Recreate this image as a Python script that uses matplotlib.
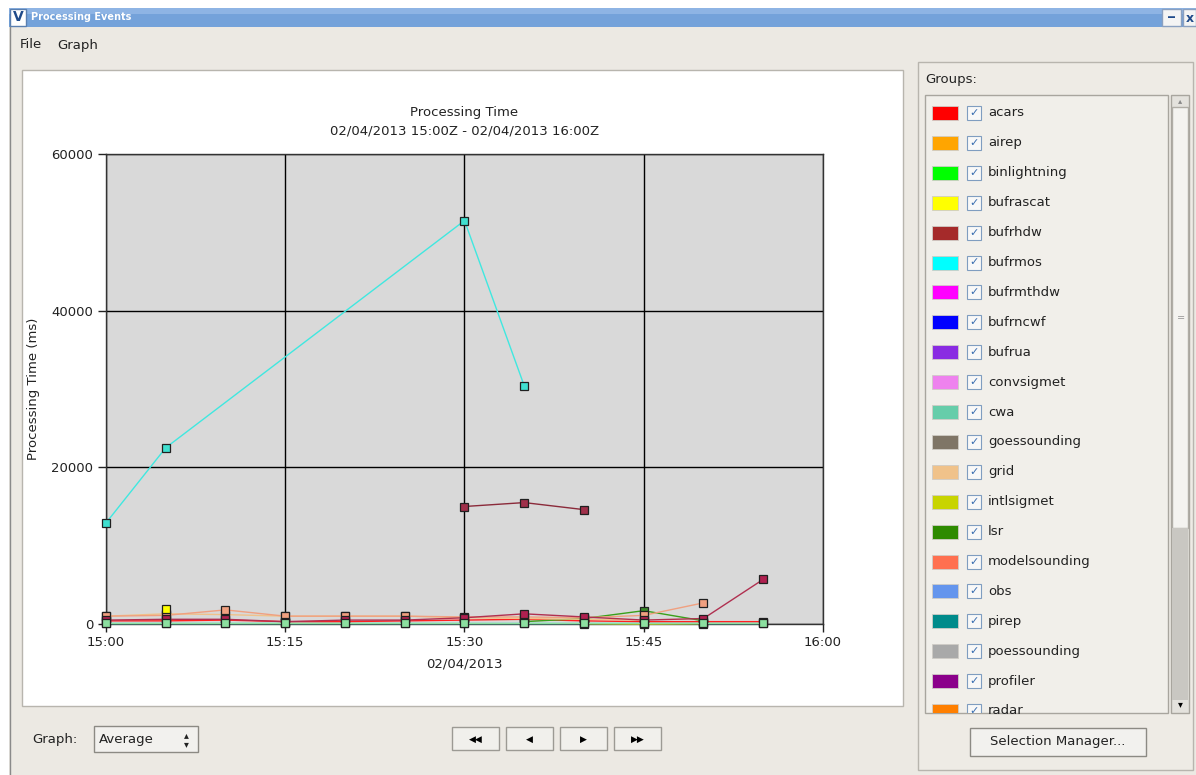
"""Processing Events window: processing time per group, 15:00-16:00Z."""
import numpy as np
import pandas as pd
import matplotlib

matplotlib.use("Agg")
import matplotlib.pyplot as plt
import matplotlib.dates as mdates
from matplotlib.patches import Rectangle

# ---- data (ms) ----
day = "2013-02-04 "
bufrmos_t = ["15:00", "15:05", "15:30", "15:35"]
bufrmos_v = [12900, 22500, 51500, 30400]
bufrhdw_t = ["15:30", "15:35", "15:40"]
bufrhdw_v = [15000, 15500, 14600]
radar_t = ["15:00", "15:05", "15:10", "15:15", "15:20", "15:25", "15:30", "15:35", "15:40", "15:45", "15:50", "15:55"]
radar_v = [500, 600, 600, 300, 500, 500, 800, 1300, 900, 500, 700, 5700]
model_t = ["15:00", "15:05", "15:10", "15:15", "15:20", "15:25", "15:30", "15:35", "15:40", "15:45", "15:50"]
model_v = [1000, 1100, 1800, 1000, 1000, 1000, 900, 900, 800, 1100, 2700]
grid_t = ["15:00", "15:05", "15:10", "15:15", "15:20", "15:25", "15:30", "15:35", "15:40", "15:45"]
grid_v = [1000, 1300, 1200, 1000, 1000, 1000, 800, 700, 600, 500]
acars_t = ["15:00", "15:05", "15:10", "15:15", "15:20", "15:25", "15:30", "15:35", "15:40", "15:45", "15:50", "15:55"]
acars_v = [400, 400, 500, 300, 300, 400, 500, 600, 400, 300, 300, 300]
bufrascat_t = ["15:05"]
bufrascat_v = [1900]
lsr_t = ["15:35", "15:40", "15:45", "15:50"]
lsr_v = [300, 700, 1700, 400]
intlsigmet_t = ["15:40", "15:45", "15:50"]
intlsigmet_v = [50, 0, 50]
obs_t = ["15:00", "15:05", "15:10", "15:15", "15:20", "15:25", "15:30", "15:35", "15:40", "15:45", "15:50", "15:55"]
obs_v = [150, 150, 150, 150, 150, 150, 150, 150, 150, 150, 150, 150]
cwa_t = ["15:00", "15:05", "15:10", "15:15", "15:20", "15:25", "15:30", "15:35", "15:40", "15:45", "15:50", "15:55"]
cwa_v = [100, 100, 100, 100, 100, 100, 100, 100, 100, 100, 100, 100]

# ---- group list (legend panel) ----
group_names = ["acars", "airep", "binlightning", "bufrascat", "bufrhdw", "bufrmos", "bufrmthdw",
               "bufrncwf", "bufrua", "convsigmet", "cwa", "goessounding", "grid", "intlsigmet",
               "lsr", "modelsounding", "obs", "pirep", "poessounding", "profiler", "radar"]
group_colors = ["#FF0000", "#FFA500", "#00FF00", "#FFFF00", "#A52A2A", "#00FFFF", "#FF00FF",
                "#0000FF", "#8A2BE2", "#EE82EE", "#66CDAA", "#7F7566", "#F0C28A", "#C8D400",
                "#2E8B00", "#FF7050", "#6495ED", "#008B8B", "#A9A9A9", "#8B008B", "#FF7F00"]

series = [
    (obs_t, obs_v, "#30D0E0", "#40E0D0"),
    (acars_t, acars_v, "#FF2020", "#E05060"),
    (intlsigmet_t, intlsigmet_v, "#E8E000", "#E8E000"),
    (lsr_t, lsr_v, "#3AA01A", "#3A8A2A"),
    (grid_t, grid_v, "#F0C28A", "#F0C28A"),
    (model_t, model_v, "#F0A080", "#F0A080"),
    (radar_t, radar_v, "#B03050", "#B02050"),
    (bufrascat_t, bufrascat_v, "#FFFF00", "#FFFF00"),
    (cwa_t, cwa_v, "#8CE0A0", "#8CE0A0"),
    (bufrhdw_t, bufrhdw_v, "#8B2A3A", "#A0304A"),
    (bufrmos_t, bufrmos_v, "#40E8E0", "#40E0D0"),
]

W, H = 1196, 775
fig = plt.figure(figsize=(W / 100, H / 100), dpi=100)
fig.patch.set_facecolor("#ECE9E3")
bg = fig.add_axes([0, 0, 1, 1])
bg.set_xlim(0, W)
bg.set_ylim(H, 0)
bg.axis("off")


def box(x0, y0, x1, y1, fc, ec="none", lw=1.0, z=1):
    r = Rectangle((x0, y0), x1 - x0, y1 - y0, facecolor=fc, edgecolor=ec, lw=lw, zorder=z)
    bg.add_patch(r)
    return r


# window chrome
box(0, 0, W, 8, "white")
box(0, 0, 9, H, "white")
box(9, 8, W, 27, "#74A2DA")
box(9, 8, W, 14, "#8EB4E4")
box(10, 9, 26, 26, "white", "#5A7FB0")
bg.text(18, 17, "V", ha="center", va="center", fontsize=10, fontweight="bold", color="#1F4A8A")
bg.text(31, 17, "Processing Events", ha="left", va="center", fontsize=7, fontweight="bold", color="white")
box(1162, 9, 1181, 26, "#F4F4F4", "#8AA0C0")
bg.text(1171, 18, "_", ha="center", va="bottom", fontsize=10, fontweight="bold", color="#1F4A8A")
box(1183, 9, W, 26, "#F4F4F4", "#8AA0C0")
bg.text(1190, 18, "x", ha="center", va="center", fontsize=9, fontweight="bold", color="#1F4A8A")
bg.plot([9.5, 9.5], [27, H], color="#8A8A8A", lw=1)
bg.text(20, 45, "File", ha="left", va="center", fontsize=9.5, color="#222222")
bg.text(57, 45, "Graph", ha="left", va="center", fontsize=9.5, color="#222222")

# plot panel
box(22, 70, 903, 706, "white", "#B8B5AE")

# bottom controls
bg.text(32, 739, "Graph:", ha="left", va="center", fontsize=9.5, color="#222222")
box(94, 726, 198, 752, "#F2F1EE", "#8C8A84")
bg.text(99, 739, "Average", ha="left", va="center", fontsize=9.5, color="#222222")
bg.text(186, 735, "\u25b4", ha="center", va="center", fontsize=7, color="#222222")
bg.text(186, 744, "\u25be", ha="center", va="center", fontsize=7, color="#222222")
for x0, lab in zip([452, 506, 560, 614], ["\u25c0\u25c0", "\u25c0", "\u25b6", "\u25b6\u25b6"]):
    box(x0, 727, x0 + 47, 750, "#F1F0EC", "#9C9A94")
    bg.text(x0 + 23.5, 739, lab, ha="center", va="center", fontsize=6.5, color="black")

# groups panel
box(918, 62, 1193, 770, "#EEEBE5", "#B8B5AE")
bg.text(925, 80, "Groups:", ha="left", va="center", fontsize=9.5, color="#222222")
listbox = box(925, 95, 1168, 713, "#F1EFEA", "#A8A59E")
box(1171, 95, 1189, 713, "#E4E2DD", "#A8A59E")
box(1172, 107, 1188, 528, "#F4F3F0", "#B0ADA6")
box(1172, 528, 1188, 700, "#C9C7C2", "none")
bg.text(1180, 101, "\u25b4", ha="center", va="center", fontsize=6, color="#888888")
bg.text(1180, 704, "\u25be", ha="center", va="center", fontsize=7, color="black")
bg.text(1181, 318, "=", ha="center", va="center", fontsize=7, color="#999999")
for i, (name, col) in enumerate(zip(group_names, group_colors)):
    yc = 113 + i * 29.9
    items = [
        box(932, yc - 7, 958, yc + 7, col, "#CFCCC6", lw=0.6, z=2),
        box(967, yc - 7, 981, yc + 7, "#F8F8F8", "#7F9DC0", lw=0.8, z=2),
        bg.text(974, yc, "\u2713", ha="center", va="center", fontsize=8, color="#3A6EB0", zorder=3),
        bg.text(988, yc, name, ha="left", va="center", fontsize=9.5, color="#222222", zorder=3),
    ]
    for it in items:
        it.set_clip_path(listbox)
box(970, 728, 1146, 756, "#F2F1EE", "#8C8A84")
bg.text(1058, 742, "Selection Manager...", ha="center", va="center", fontsize=9.5, color="#222222")

# ---- chart ----
ax = fig.add_axes([106 / W, 1 - 624 / H, (823 - 106) / W, (624 - 154) / H], zorder=5)
ax.set_facecolor("#D9D9D9")


def to_dt(ts):
    return pd.to_datetime([day + t for t in ts])


for ts, vs, lc, mc in series:
    ax.plot(to_dt(ts), vs, color=lc, lw=1.0, marker="s", markersize=6, clip_on=False,
            markerfacecolor=mc, markeredgecolor="#202020", markeredgewidth=0.9, zorder=3)

ax.set_xlim(pd.Timestamp(day + "15:00"), pd.Timestamp(day + "16:00"))
ax.set_ylim(0, 60000)
ax.set_yticks([0, 20000, 40000, 60000])
ax.xaxis.set_major_locator(mdates.MinuteLocator(byminute=[0, 15, 30, 45]))
ax.xaxis.set_major_formatter(mdates.DateFormatter("%H:%M"))
ax.grid(True, color="black", lw=1.0)
ax.set_axisbelow(True)
for s in ax.spines.values():
    s.set_color("#333333")
    s.set_linewidth(1.0)
ax.tick_params(length=6, width=1, labelsize=9.5, colors="#222222", pad=3)
ax.set_xlabel("02/04/2013", fontsize=9.5, color="#222222", labelpad=6)
ax.set_ylabel("Processing Time (ms)", fontsize=9.5, color="#222222", labelpad=8)
ax.set_title("Processing Time\n02/04/2013 15:00Z - 02/04/2013 16:00Z", fontsize=9.5,
             color="#222222", pad=14, linespacing=1.6)

fig.savefig("out.png", dpi=100, facecolor=fig.get_facecolor())
